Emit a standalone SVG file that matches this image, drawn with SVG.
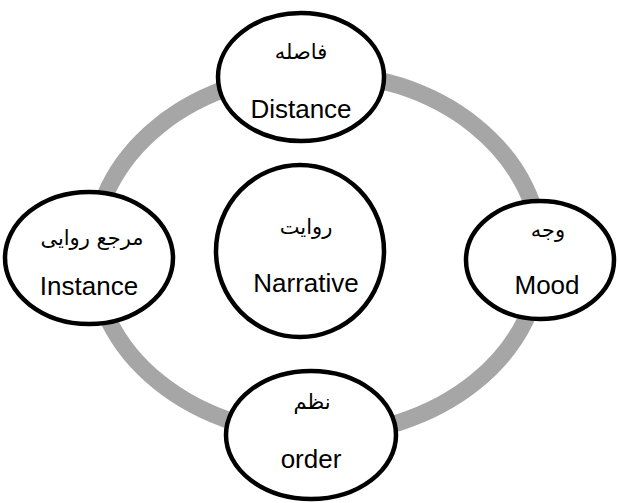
<svg xmlns="http://www.w3.org/2000/svg" width="618" height="503" viewBox="0 0 618 503">
  <style>
    .node { fill: #ffffff; stroke: #000000; stroke-width: 4.5; }
    .ring { fill: none; stroke: #a6a6a6; stroke-width: 17; }
    .en { font-family: "Liberation Sans", Arial, sans-serif; font-size: 26px; fill: #000; text-anchor: middle; }
    .fa { font-family: "DejaVu Sans", sans-serif; font-size: 21px; fill: #000; text-anchor: middle; direction: rtl; }
  </style>
  <g id="connectors">
    <ellipse class="ring" cx="317" cy="254" rx="224" ry="181"/>
  </g>
  <g id="node-distance">
    <ellipse class="node" cx="301" cy="77" rx="83" ry="64"/>
    <text class="fa" x="301" y="59">فاصله</text>
    <text class="en" x="301" y="118">Distance</text>
  </g>
  <g id="node-instance">
    <ellipse class="node" cx="89" cy="258" rx="84" ry="66"/>
    <text class="fa" x="92" y="245">مرجع روایی</text>
    <text class="en" x="89" y="295">Instance</text>
  </g>
  <g id="node-mood">
    <ellipse class="node" cx="540" cy="260" rx="74" ry="59"/>
    <text class="fa" x="548" y="237">وجه</text>
    <text class="en" x="547" y="294">Mood</text>
  </g>
  <g id="node-order">
    <ellipse class="node" cx="311" cy="435" rx="85" ry="64"/>
    <text class="fa" x="312" y="409">نظم</text>
    <text class="en" x="311" y="468">order</text>
  </g>
  <g id="node-narrative">
    <ellipse class="node" cx="300" cy="251" rx="84" ry="86"/>
    <text class="fa" x="306" y="234">روایت</text>
    <text class="en" x="306" y="292">Narrative</text>
  </g>
</svg>
